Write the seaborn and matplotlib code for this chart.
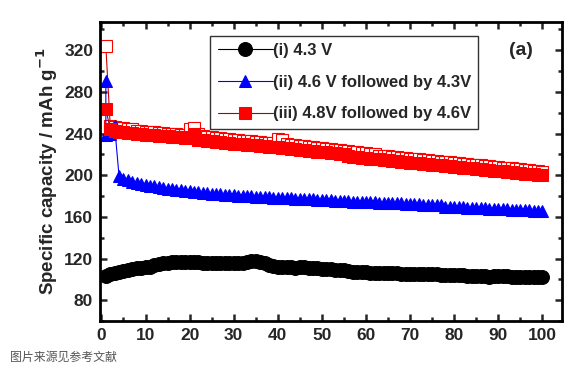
import matplotlib
matplotlib.use("Agg")
import matplotlib.pyplot as plt
import seaborn as sns
from matplotlib.ticker import MultipleLocator

# Cycle numbers
cycles = list(range(1, 101))

# (i) 4.3 V
cap_i = [103, 105, 106, 107, 108, 109, 110, 111, 111, 112,
         112, 114, 115, 116, 116, 117, 117, 117, 117, 117,
         117, 117, 116, 116, 116, 116, 116, 116, 116, 116,
         116, 116, 117, 118, 118, 117, 116, 114, 113, 112,
         112, 112, 112, 111, 112, 112, 111, 111, 111, 110,
         110, 110, 109, 109, 109, 108, 107, 107, 107, 107,
         106, 106, 106, 106, 106, 106, 106, 105, 105, 105,
         105, 105, 105, 105, 105, 105, 104, 104, 104, 104,
         104, 104, 103, 103, 103, 103, 103, 102, 103, 103,
         103, 103, 102, 102, 102, 102, 102, 102, 102, 102]

# (ii) 4.6 V followed by 4.3 V
first_charge_ii = 291
cap_ii = [239, 240, 247, 199, 196, 195, 194, 193, 192, 191,
          190, 190, 189, 188, 187, 187, 186, 186, 185, 185,
          184, 184, 183, 183, 182, 182, 182, 181, 181, 181,
          180, 180, 180, 180, 179, 179, 179, 179, 178, 178,
          178, 178, 178, 177, 177, 177, 177, 177, 176, 176,
          176, 176, 175, 175, 175, 175, 174, 174, 174, 174,
          174, 174, 173, 173, 173, 173, 173, 173, 172, 172,
          172, 172, 171, 171, 171, 171, 171, 170, 170, 170,
          170, 170, 169, 169, 169, 169, 169, 168, 168, 168,
          168, 168, 167, 167, 167, 167, 167, 166, 166, 166]

# (iii) 4.8 V followed by 4.6 V, charge (open) and discharge (filled)
charge_iii = [324, 247, 246, 245, 245, 244, 244, 243, 243, 242,
              242, 242, 241, 241, 240, 240, 240, 239, 239, 244,
              245, 240, 238, 237, 237, 236, 236, 235, 235, 234,
              234, 233, 233, 233, 232, 232, 231, 231, 231, 235,
              234, 230, 229, 229, 228, 228, 227, 227, 226, 226,
              225, 225, 224, 224, 223, 223, 222, 222, 221, 221,
              220, 220, 219, 219, 219, 218, 218, 217, 217, 216,
              216, 216, 215, 215, 214, 214, 213, 213, 213, 212,
              212, 211, 211, 210, 210, 210, 209, 209, 208, 208,
              207, 207, 207, 206, 206, 205, 205, 204, 204, 203]
cap_iii = [264, 244, 243, 242, 242, 241, 241, 240, 240, 239,
           239, 239, 238, 238, 238, 237, 237, 237, 236, 236,
           240, 234, 234, 233, 233, 232, 232, 231, 231, 230,
           230, 230, 229, 229, 229, 228, 228, 227, 227, 227,
           226, 226, 225, 225, 224, 224, 223, 223, 222, 222,
           222, 221, 221, 220, 220, 219, 218, 218, 217, 217,
           216, 216, 216, 215, 215, 214, 214, 213, 213, 212,
           212, 212, 211, 211, 210, 210, 210, 209, 209, 208,
           208, 207, 207, 207, 206, 206, 205, 205, 204, 204,
           204, 203, 203, 202, 202, 201, 201, 201, 200, 200]

labels = ["(i) 4.3 V", "(ii) 4.6 V followed by 4.3V", "(iii) 4.8V followed by 4.6V"]

sns.set_style("ticks")
plt.rcParams['font.family'] = ['Liberation Sans', 'DejaVu Sans']
plt.rcParams['mathtext.default'] = 'bf'

fig = plt.figure(figsize=(5.82, 3.76), dpi=100)
ax = fig.add_axes([0.172, 0.146, 0.794, 0.795])

# red charge (open squares) under everything
sns.lineplot(x=cycles, y=charge_iii, ax=ax, color="#cc0000", linewidth=0.8,
             marker="s", markersize=8, markerfacecolor="white",
             markeredgecolor="red", markeredgewidth=0.8,
             estimator=None, sort=False, legend=False)

sns.lineplot(x=cycles, y=cap_i, ax=ax, color="black", linewidth=0.8,
             marker="o", markersize=10, markerfacecolor="black",
             markeredgecolor="black", estimator=None, sort=False,
             label=labels[0])
sns.lineplot(x=[1] + cycles, y=[first_charge_ii] + cap_ii, ax=ax,
             color="blue", linewidth=0.8, marker="^", markersize=9,
             markerfacecolor="blue", markeredgecolor="blue",
             estimator=None, sort=False, label=labels[1])
sns.lineplot(x=cycles, y=cap_iii, ax=ax, color="#aa0000", linewidth=0.8,
             marker="s", markersize=8.5, markerfacecolor="red",
             markeredgecolor="red", estimator=None, sort=False,
             label=labels[2])

ax.set_xlim(-0.3, 104.5)
ax.set_ylim(60, 347)
ax.xaxis.set_major_locator(MultipleLocator(10))
ax.xaxis.set_minor_locator(MultipleLocator(5))
ax.set_yticks(range(80, 330, 40))
ax.yaxis.set_minor_locator(MultipleLocator(20))

ax.tick_params(which="both", direction="in", top=True, right=True,
               width=1.8, labelsize=12.5, pad=5)
ax.tick_params(which="major", length=5)
ax.tick_params(which="minor", length=3)
for lbl in ax.get_xticklabels() + ax.get_yticklabels():
    lbl.set_fontweight("bold")
for sp in ax.spines.values():
    sp.set_linewidth(2)
    sp.set_color("black")

ax.set_xlabel("")
ax.set_ylabel("Specific capacity / mAh g$^{-1}$", fontsize=13.5,
              fontweight="bold", labelpad=3)

leg = ax.legend(loc="upper left", bbox_to_anchor=(0.238, 0.955),
                frameon=True, fancybox=False, handlelength=3.3,
                handletextpad=0.0, borderpad=0.45, labelspacing=1.0,
                borderaxespad=0.0,
                prop={"weight": "bold", "size": 12})
leg.get_frame().set_edgecolor("black")
leg.get_frame().set_linewidth(1.0)

ax.text(0.91, 0.905, "(a)", transform=ax.transAxes, fontsize=14,
        fontweight="bold", ha="center", va="center")

fig.text(0.017, 0.05, "图片来源见参考文献", fontsize=8.6, color="#555555",
         family=["Noto Sans CJK SC", "DejaVu Sans"], fontweight="normal",
         ha="left", va="center")

fig.savefig("out.png", dpi=100)
